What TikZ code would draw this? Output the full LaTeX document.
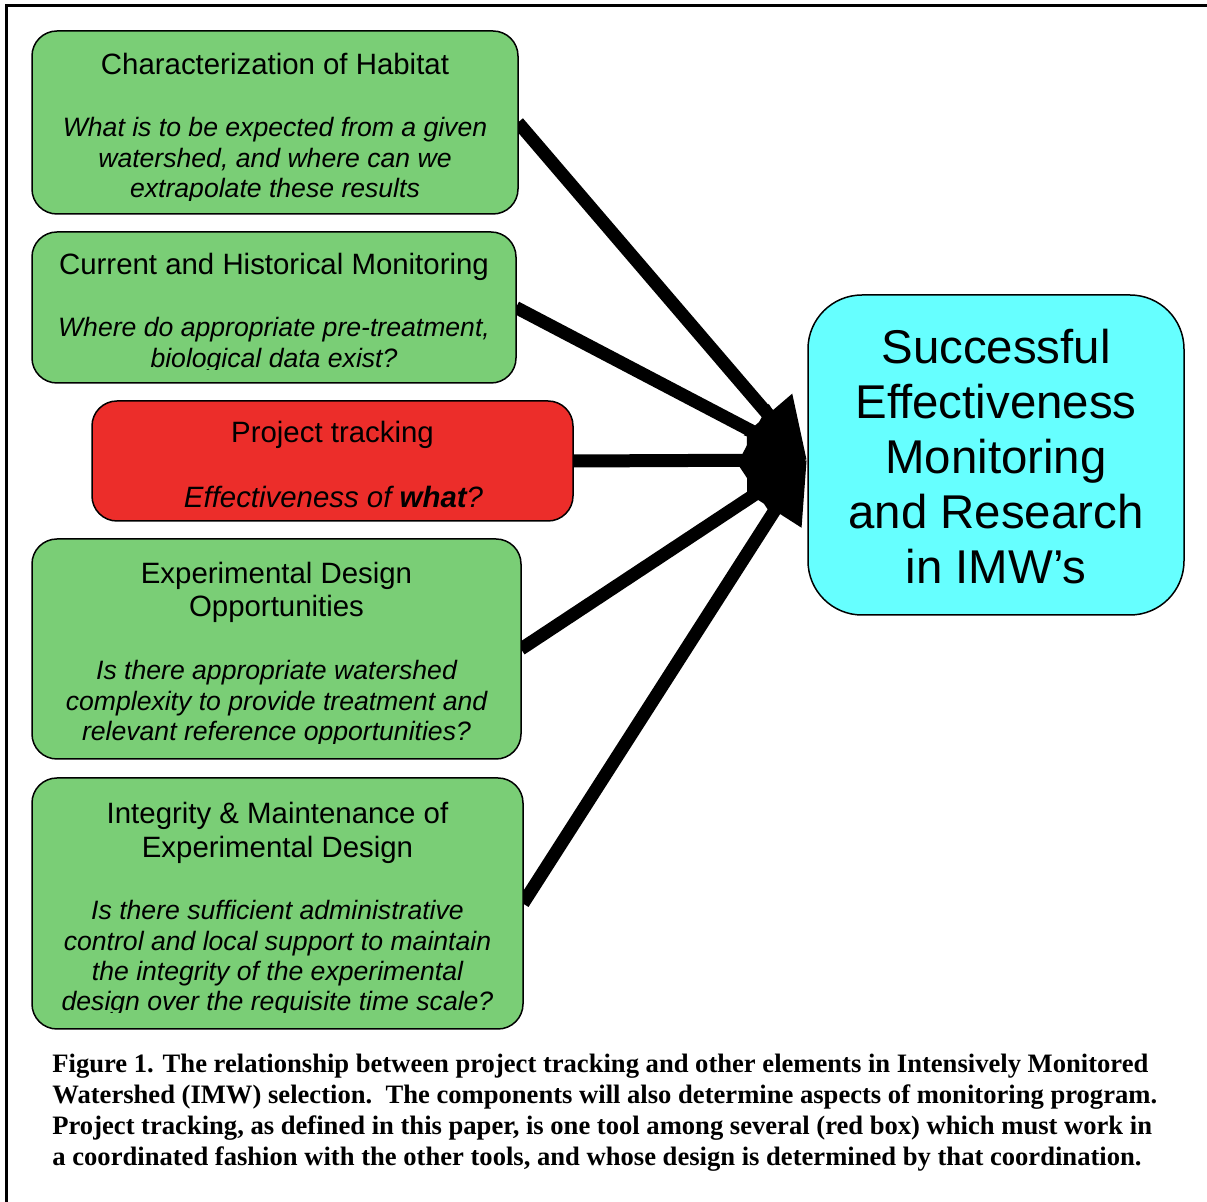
\documentclass[tikz,border=0pt]{standalone}
\usepackage{fontspec}
\setmainfont{Liberation Sans}
\newfontfamily\capfont{Liberation Serif}
\usetikzlibrary{arrows.meta,backgrounds}
\definecolor{boxgreen}{RGB}{122,206,118}
\definecolor{boxred}{RGB}{236,45,42}
\definecolor{boxcyan}{RGB}{102,255,255}
\begin{document}
\begin{tikzpicture}[x=0.5pt,y=-0.5pt,
  box/.style={draw=black, line width=0.75pt, rounded corners=12.5pt, inner sep=0pt, outer sep=0pt},
  ttl/.style={anchor=base, inner sep=0pt, font=\fontsize{14.7}{16.5}\selectfont},
  qst/.style={anchor=base, inner sep=0pt, font=\fontsize{13.3}{15.25}\selectfont\itshape},
  qstbig/.style={anchor=base, inner sep=0pt, font=\fontsize{14.7}{16.5}\selectfont\itshape},
  big/.style={anchor=base, inner sep=0pt, font=\fontsize{23.7}{27.5}\selectfont},
  capline/.style={anchor=base west, inner sep=0pt, font=\capfont\bfseries\fontsize{13.3}{15.5}\selectfont},
  link/.style={line width=6.5pt, -{Triangle[length=30pt,width=30pt]}}]

\clip (0,0) rectangle (1207,1202);
\draw[line width=1.5pt] (6,1240) -- (6,6) -- (1240,6);

% boxes
\node[box, fill=boxgreen, minimum width=243pt, minimum height=91.5pt] (b1) at (275,122.5) {};
\node[box, fill=boxgreen, minimum width=242pt, minimum height=75.5pt] (b2) at (274,307.5) {};
\node[box, fill=boxred, minimum width=240.5pt, minimum height=60pt] (b3) at (332.5,461) {};
\node[box, fill=boxgreen, minimum width=244.5pt, minimum height=110pt] (b4) at (276.5,649) {};
\node[box, fill=boxgreen, minimum width=245.5pt, minimum height=125.5pt] (b5) at (277.5,903.5) {};
\node[box, fill=boxcyan, rounded corners=27pt, minimum width=188pt, minimum height=160pt] (goal) at (996,455) {};

\coordinate (hub) at (807,460);

\begin{scope}[on background layer]
  \fill[white] (0,0) rectangle (1207,1202);
  \draw[link] (b1.east) -- (hub);
  \draw[link] (b2.east) -- (hub);
  \draw[link] (b3.east) -- (hub);
  \draw[link] (b4.east) -- (hub);
  \draw[link] (b5.east) -- (hub);
\end{scope}

% box 1
\node[ttl] (b1t) at (275,75) {Characterization of Habitat};
\begin{scope}
  \clip (32,31) rectangle (518,200.5);
  \node[qst] (b1q1) at (275,137) {What is to be expected from a given};
  \node[qst] (b1q2) at (275,167.5) {watershed, and where can we};
  \node[qst] (b1q3) at (275,198) {extrapolate these results};
\end{scope}

% box 2
\node[ttl] (b2t) at (274,275) {Current and Historical Monitoring};
\begin{scope}
  \clip (32,232) rectangle (516,370);
  \node[qst] (b2q1) at (274,337) {Where do appropriate pre-treatment,};
  \node[qst] (b2q2) at (274,367.5) {biological data exist?};
\end{scope}

% box 3 (red)
\node[ttl] (b3t) at (332.5,443) {Project tracking};
\begin{scope}
  \clip (92,401) rectangle (573,510);
  \node[qstbig] (b3q1) at (333.5,508) {Effectiveness of \textbf{what}?};
\end{scope}

% box 4
\node[ttl] (b4t1) at (276.5,584) {Experimental Design};
\node[ttl] (b4t2) at (276.5,617) {Opportunities};
\begin{scope}
  \clip (32,539) rectangle (521,743.5);
  \node[qst] (b4q1) at (276.5,680) {Is there appropriate watershed};
  \node[qst] (b4q2) at (276.5,710.5) {complexity to provide treatment and};
  \node[qst] (b4q3) at (276.5,741) {relevant reference opportunities?};
\end{scope}

% box 5
\node[ttl] (b5t1) at (277.5,824) {Integrity \& Maintenance of};
\node[ttl] (b5t2) at (277.5,858) {Experimental Design};
\begin{scope}
  \clip (32,778) rectangle (523,1013);
  \node[qst] (b5q1) at (277.5,920) {Is there sufficient administrative};
  \node[qst] (b5q2) at (277.5,950.5) {control and local support to maintain};
  \node[qst] (b5q3) at (277.5,981) {the integrity of the experimental};
  \node[qst] (b5q4) at (277.5,1011) {design over the requisite time scale?};
\end{scope}

% goal box text
\node[big] (g1) at (996,364) {Successful};
\node[big] (g2) at (996,419) {Effectiveness};
\node[big] (g3) at (996,474) {Monitoring};
\node[big] (g4) at (996,529) {and Research};
\node[big] (g5) at (996,584) {in IMW’s};

% caption
\node[capline] (c1) at (52,1073) {Figure 1. The relationship between project tracking and other elements in Intensively Monitored};
\node[capline] (c2) at (52,1104) {Watershed (IMW) selection.\ \ The components will also determine aspects of monitoring program.};
\node[capline] (c3) at (52,1135) {Project tracking, as defined in this paper, is one tool among several (red box) which must work in};
\node[capline] (c4) at (52,1166) {a coordinated fashion with the other tools, and whose design is determined by that coordination.};
\end{tikzpicture}
\end{document}
